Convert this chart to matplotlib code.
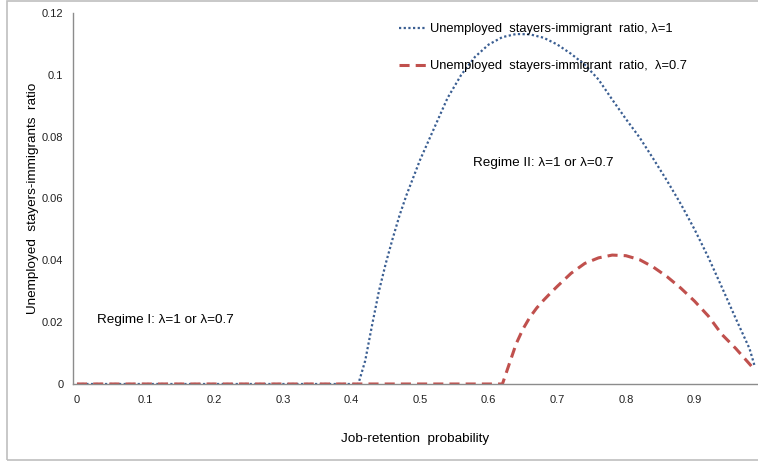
import matplotlib
matplotlib.use("Agg")
import matplotlib.pyplot as plt
from matplotlib.patches import Rectangle

plt.rcParams["font.family"] = ["Liberation Sans", "DejaVu Sans"]

# --- data --------------------------------------------------------------
p_lam1 = [0.00, 0.41, 0.42, 0.43, 0.44, 0.45, 0.46, 0.47, 0.48, 0.50, 0.52,
          0.54, 0.56, 0.58, 0.60, 0.62, 0.64, 0.66, 0.68, 0.70, 0.72, 0.74,
          0.76, 0.78, 0.80, 0.82, 0.84, 0.86, 0.88, 0.90, 0.92, 0.94, 0.96,
          0.98, 0.988]
u_lam1 = [0.0, 0.0, 0.0075, 0.019, 0.030, 0.039, 0.047, 0.0545, 0.061, 0.0725,
          0.0825, 0.0925, 0.100, 0.1058, 0.1098, 0.1122, 0.1132, 0.1131,
          0.1120, 0.1098, 0.1068, 0.1033, 0.0985, 0.0920, 0.0857, 0.0797,
          0.0728, 0.0657, 0.0582, 0.0500, 0.0410, 0.0312, 0.0212, 0.0115,
          0.0055]

p_lam07 = [0.00, 0.62, 0.63, 0.64, 0.65, 0.66, 0.67, 0.68, 0.69, 0.70, 0.72,
           0.74, 0.76, 0.78, 0.80, 0.82, 0.84, 0.86, 0.88, 0.90, 0.92, 0.94,
           0.96, 0.984]
u_lam07 = [0.0, 0.0, 0.0065, 0.0130, 0.0178, 0.0216, 0.0246, 0.0271, 0.0294,
           0.0316, 0.0358, 0.0390, 0.0408, 0.0417, 0.0415, 0.0402, 0.0378,
           0.0347, 0.031, 0.0268, 0.022, 0.016, 0.0115, 0.0055]

x_ticks = [0, 0.1, 0.2, 0.3, 0.4, 0.5, 0.6, 0.7, 0.8, 0.9]
x_tick_labels = ["0", "0.1", "0.2", "0.3", "0.4", "0.5", "0.6", "0.7", "0.8", "0.9"]
y_ticks = [0, 0.02, 0.04, 0.06, 0.08, 0.1, 0.12]
y_tick_labels = ["0", "0.02", "0.04", "0.06", "0.08", "0.1", "0.12"]

label_lam1 = "Unemployed  stayers-immigrant  ratio, \u03bb=1"
label_lam07 = "Unemployed  stayers-immigrant  ratio,  \u03bb=0.7"

W, H = 758, 462
TXT = 9.7
fig = plt.figure(figsize=(W / 100, H / 100), dpi=100)
ax = fig.add_axes([73 / W, 1 - 384 / H, (757 - 73) / W, (384 - 13) / H])

ax.plot(p_lam1, u_lam1, color="#3a5e92", lw=1.6, linestyle=(0, (1, 1.1)),
        dash_capstyle="butt", label=label_lam1)
ax.plot(p_lam07, u_lam07, color="#c0504d", lw=2.2, linestyle=(0, (3.3, 2)),
        label=label_lam07)

ax.set_xlim(-0.0058, 0.991)
ax.set_ylim(0, 0.12)
ax.set_xticks(x_ticks)
ax.set_xticklabels(x_tick_labels)
ax.set_yticks(y_ticks)
ax.set_yticklabels(y_tick_labels)
ax.tick_params(axis="both", length=0, labelsize=8, colors="#222222")
ax.tick_params(axis="x", pad=8)
ax.tick_params(axis="y", pad=7)
for side in ("top", "right"):
    ax.spines[side].set_visible(False)
for side in ("left", "bottom"):
    ax.spines[side].set_color("#8c8c8c")
    ax.spines[side].set_linewidth(1.0)

ax.set_xlabel("Job-retention  probability", fontsize=TXT, labelpad=20)
ax.set_ylabel("Unemployed  stayers-immigrants  ratio", fontsize=TXT, labelpad=2)

ax.text(0.029, 0.0207, "Regime I: \u03bb=1 or \u03bb=0.7", fontsize=TXT, va="center")
ax.text(0.577, 0.0715, "Regime II: \u03bb=1 or \u03bb=0.7", fontsize=TXT, va="center")

leg = ax.legend(loc="upper left", bbox_to_anchor=((387 - 73) / (757 - 73), 1.004),
                frameon=False, fontsize=9.3, handlelength=2.1, handletextpad=0.35,
                labelspacing=1.95)

# outer chart border
fig.patches.append(Rectangle((7 / W, 2 / H), 1.0, (460 - 1) / H,
                             transform=fig.transFigure, fill=False,
                             edgecolor="#bfbfbf", lw=1.2))

fig.savefig("out.png", dpi=100)
